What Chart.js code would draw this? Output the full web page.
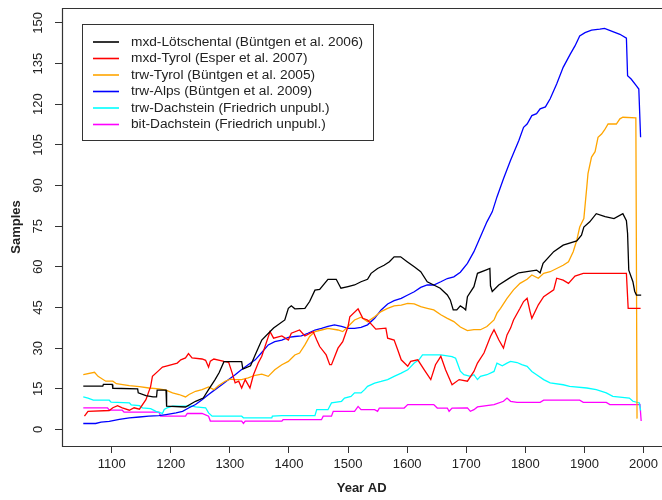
<!DOCTYPE html>
<html>
<head>
<meta charset="utf-8">
<script src="https://cdn.jsdelivr.net/npm/chart.js@4.4.1/dist/chart.umd.min.js"></script>
<style>
  html, body { margin: 0; padding: 0; background: #fff; overflow: hidden; }
</style>
</head>
<body>
<canvas id="samplesChart" width="662" height="500"></canvas>
<script>
// tick labels
var yearTicks = [1100, 1200, 1300, 1400, 1500, 1600, 1700, 1800, 1900, 2000];
var sampleTicks = [0, 15, 30, 45, 60, 75, 90, 105, 120, 135, 150];

var seriesLabels = [
  'mxd-Lötschental (Büntgen et al. 2006)',
  'mxd-Tyrol (Esper et al. 2007)',
  'trw-Tyrol (Büntgen et al. 2005)',
  'trw-Alps (Büntgen et al. 2009)',
  'trw-Dachstein (Friedrich unpubl.)',
  'bit-Dachstein (Friedrich unpubl.)'
];
var seriesColors = ['#000000', '#ff0000', '#ffa500', '#0000ff', '#00ffff', '#ff00ff'];

// [year, samples]
var mxdLotschental = [[1052,16],[1085,16],[1086,16.6],[1101,16.6],[1102,15.2],[1144,15],[1145,13.5],[1158,12.5],[1170,12],[1176,12],[1177,14.5],[1192,14.5],[1193,8.6],[1225,8.3],[1242,10.4],[1255,11.6],[1264,14.7],[1275,18.4],[1282,21],[1290,25],[1320,25],[1322,22.3],[1335,23.5],[1343,27.6],[1354,33],[1374,37.4],[1393,40.4],[1399,44.7],[1404,45.6],[1410,44.5],[1427,44.7],[1435,47.2],[1444,51.4],[1452,51.7],[1466,55.4],[1480,55.4],[1488,52.1],[1500,52.7],[1511,53.3],[1522,54.5],[1533,55.4],[1539,57.6],[1550,59.4],[1561,60.6],[1570,61.9],[1578,63.7],[1589,63.7],[1600,61.9],[1612,60],[1623,58.2],[1634,54.5],[1645,53.3],[1656,52.1],[1668,49.6],[1673,47.8],[1678,44.1],[1684,44.1],[1690,45.6],[1696,44.7],[1699,44.1],[1702,49],[1713,52.7],[1719,57.6],[1733,58.8],[1740,59.4],[1741,53],[1744,50.9],[1755,53.3],[1775,56.1],[1789,57.8],[1819,58.8],[1825,57.8],[1830,61.3],[1848,65.6],[1864,68],[1887,69.6],[1895,71.7],[1899,74.7],[1909,76.6],[1920,79.6],[1935,78.5],[1950,77.8],[1965,79.6],[1971,77],[1973,72.3],[1975,58.8],[1982,54.5],[1985,51],[1988,49.6],[1996,49.6]];

var mxdTyrol = [[1054,4.9],[1060,6.7],[1096,7],[1102,8],[1110,8.8],[1118,8],[1130,7.1],[1138,8],[1147,7.5],[1158,11],[1166,15.9],[1169,19.6],[1180,21.8],[1186,23],[1194,23.5],[1211,24.5],[1217,25.7],[1225,26.4],[1230,28],[1236,26.4],[1253,26],[1259,25.5],[1264,23],[1267,25.2],[1273,26],[1290,25.1],[1298,24.8],[1304,20.8],[1309,17.2],[1315,17.8],[1320,15.3],[1326,18.4],[1334,15.3],[1340,20.2],[1348,24.5],[1354,27],[1368,36.1],[1374,33.7],[1388,34.5],[1399,33],[1404,35.5],[1418,36.7],[1427,34.5],[1441,36.1],[1447,33],[1452,30.6],[1463,27.5],[1469,23.9],[1472,23.9],[1483,30],[1491,32.4],[1500,38],[1503,41.6],[1517,44.5],[1525,41],[1533,40.4],[1547,37],[1564,37.4],[1567,33.7],[1578,33],[1584,29.4],[1590,25.7],[1601,23.3],[1606,25.1],[1618,25.7],[1629,22],[1640,18.4],[1648,23.9],[1657,27],[1665,22],[1676,16.5],[1688,18.4],[1702,17.8],[1713,21.4],[1719,24.5],[1730,28.2],[1741,34.3],[1747,36.8],[1755,33.1],[1763,30],[1769,34.9],[1775,37.4],[1780,40.4],[1791,44.7],[1797,47.2],[1803,48.4],[1808,43.5],[1811,41],[1822,46],[1831,49],[1848,51.5],[1853,55.8],[1864,55.1],[1873,53.9],[1884,56.6],[1898,57.6],[1971,57.6],[1974,44.7],[1995,44.7]];

var trwTyrol = [[1052,20.2],[1071,21.1],[1077,19.6],[1090,17.8],[1102,17.8],[1108,16.9],[1130,16.2],[1147,15.8],[1163,15.3],[1180,15],[1192,14.5],[1203,13.5],[1214,12.9],[1225,12],[1231,12.9],[1242,14.1],[1253,14.7],[1264,15.7],[1273,14.7],[1281,16.2],[1292,17.8],[1301,18.6],[1309,18.4],[1320,18.4],[1331,19],[1343,20],[1354,20.4],[1365,19.6],[1376,22],[1388,23.9],[1399,25.1],[1410,27.5],[1418,28.2],[1427,31.2],[1435,34.3],[1444,36.1],[1455,36.7],[1466,37.3],[1483,36.7],[1491,36.1],[1500,38],[1511,40.4],[1522,41.4],[1533,39.8],[1545,41.6],[1556,43.5],[1567,44.7],[1578,45.6],[1590,45.9],[1601,46.5],[1612,46.3],[1623,45.3],[1634,44.7],[1645,44.1],[1657,42.3],[1668,41],[1679,39.8],[1690,37.8],[1702,36.5],[1713,36.8],[1724,36.8],[1735,38],[1747,40.4],[1752,42.9],[1758,44.7],[1769,48.4],[1780,51.5],[1791,53.9],[1803,55.4],[1811,57],[1822,55.8],[1831,57.6],[1842,58.2],[1853,59.4],[1864,60.6],[1873,61.9],[1881,65.6],[1887,69.8],[1892,74.7],[1899,77.8],[1904,89.5],[1906,94.4],[1912,100.5],[1918,102.5],[1923,107.8],[1929,109],[1934,110.5],[1940,112.7],[1954,112.7],[1960,114.6],[1965,115.2],[1987,115],[1989,4]];

var trwAlps = [[1052,2.2],[1073,2.2],[1082,2.7],[1096,3],[1113,3.7],[1130,4.3],[1147,4.6],[1163,4.9],[1180,5.1],[1192,5.5],[1209,6.1],[1220,6.7],[1231,8],[1242,9.2],[1253,11],[1264,12.9],[1275,14.7],[1287,16.6],[1298,18.4],[1309,20.2],[1320,22.1],[1331,23.9],[1343,25.7],[1354,28.4],[1365,31.2],[1376,32.4],[1388,33],[1399,34],[1410,34.3],[1421,34.5],[1432,35.5],[1444,36.7],[1455,37.3],[1466,38],[1477,38.6],[1489,38],[1500,37.3],[1511,37.3],[1522,37.7],[1533,38.6],[1545,41],[1556,44.1],[1567,46.3],[1578,47.5],[1590,48.4],[1601,49.6],[1612,50.8],[1623,52.4],[1634,53.3],[1645,53.3],[1657,54.5],[1668,55.7],[1679,56.3],[1690,58],[1702,61.3],[1713,65.6],[1724,71.1],[1735,76.6],[1744,80.3],[1752,85.8],[1763,92.5],[1775,99.3],[1789,106.6],[1797,111.5],[1803,112.7],[1811,115.8],[1819,116.5],[1825,118.3],[1834,119],[1842,122],[1853,127.5],[1864,133.6],[1876,138.5],[1884,141.5],[1892,145.2],[1901,146.4],[1912,147.3],[1926,147.7],[1934,148],[1948,146.8],[1960,145.8],[1971,144.4],[1973,130.5],[1979,129.3],[1988,126.8],[1992,125.6],[1995,107.8]];

var trwDachstein = [[1052,12],[1060,11.6],[1069,10.8],[1096,10.8],[1099,10.1],[1130,9.8],[1133,9.1],[1147,8.8],[1152,8],[1166,7.7],[1175,6.7],[1186,5.9],[1189,7.4],[1194,8],[1203,8.6],[1236,8.6],[1242,8.3],[1259,8],[1264,6.1],[1270,4.9],[1320,4.9],[1323,4.3],[1371,4.3],[1372,4.9],[1388,5.1],[1444,5.1],[1447,7.3],[1466,7.3],[1472,9.8],[1489,10.4],[1494,11.6],[1505,12.2],[1511,13.5],[1522,13.5],[1528,14.7],[1533,15.9],[1545,17.1],[1556,17.7],[1567,18.4],[1578,19.6],[1590,20.8],[1601,22],[1612,24.5],[1620,25.7],[1626,27.5],[1657,27.5],[1676,26.9],[1682,26.3],[1685,24.5],[1690,21.5],[1696,20.2],[1707,19.6],[1713,20.2],[1719,18.4],[1724,19.6],[1735,20.2],[1747,21.4],[1752,24.5],[1761,23.5],[1769,24.5],[1775,25.1],[1786,24.7],[1794,23.9],[1803,23.3],[1811,21.4],[1819,20.2],[1831,18.4],[1842,17.2],[1864,16.5],[1875,15.9],[1904,15.3],[1920,14.7],[1937,13.5],[1948,12.2],[1976,11.6],[1982,10.4],[1993,9.8],[1995,7]];

var bitDachstein = [[1052,8],[1093,8],[1096,7.1],[1118,7.1],[1121,6.4],[1180,6.4],[1183,4.9],[1225,4.9],[1228,5.9],[1253,5.9],[1264,4.9],[1267,3.1],[1320,3.1],[1323,2.2],[1326,3.1],[1388,3.1],[1390,3.6],[1455,3.6],[1458,4.9],[1472,4.9],[1475,6.7],[1511,6.7],[1517,8.5],[1522,7.3],[1545,7.3],[1550,6.7],[1553,7.9],[1595,7.9],[1601,9.2],[1645,9.2],[1651,7.9],[1668,7.9],[1671,6.7],[1676,7.9],[1702,8],[1707,6.7],[1713,7.3],[1719,8.3],[1747,9.2],[1763,10.4],[1769,11.6],[1775,10.4],[1786,10],[1825,10],[1831,10.8],[1892,10.8],[1898,10],[1937,10],[1943,9.2],[1994,9.2],[1996,3.1]];

var allSeries = [mxdLotschental, mxdTyrol, trwTyrol, trwAlps, trwDachstein, bitDachstein];

var fontFamily = "'Liberation Sans', Arial, sans-serif";
var baseFont = { family: fontFamily, size: 13 };
var boldFont = { family: fontFamily, size: 13, weight: 'bold' };

// R style box: top, left and bottom; the right side falls outside the picture
var framePlugin = {
  id: 'frame',
  afterDraw: function(chart) {
    var a = chart.chartArea, ctx = chart.ctx;
    var l = Math.round(a.left) + 0.5, t = Math.round(a.top) + 0.5, b = Math.round(a.bottom) + 0.5;
    ctx.save();
    ctx.strokeStyle = '#333';
    ctx.lineWidth = 1.2;
    ctx.beginPath();
    ctx.moveTo(chart.width, t);
    ctx.lineTo(l, t);
    ctx.lineTo(l, b);
    ctx.lineTo(chart.width, b);
    ctx.stroke();
    ctx.restore();
  }
};

// y tick labels run parallel to the axis
var yLabelPlugin = {
  id: 'yLabels',
  afterDraw: function(chart) {
    var ctx = chart.ctx, y = chart.scales.y;
    ctx.save();
    ctx.fillStyle = '#222';
    ctx.font = '13px ' + fontFamily;
    ctx.textAlign = 'center';
    ctx.textBaseline = 'middle';
    sampleTicks.forEach(function(v) {
      var py = y.getPixelForValue(v);
      ctx.save();
      ctx.translate(38, py);
      ctx.rotate(-Math.PI / 2);
      ctx.fillText(String(v), 0, 0);
      ctx.restore();
    });
    ctx.restore();
  }
};

var legendPlugin = {
  id: 'boxLegend',
  afterDraw: function(chart) {
    var ctx = chart.ctx;
    ctx.save();
    ctx.fillStyle = '#fff';
    ctx.fillRect(82, 24, 291, 116);
    ctx.strokeStyle = '#333';
    ctx.lineWidth = 1;
    ctx.strokeRect(82.5, 24.5, 291, 116);
    ctx.font = '13.7px ' + fontFamily;
    ctx.textBaseline = 'middle';
    chart.data.datasets.forEach(function(ds, i) {
      var ry = 42 + i * 16.5;
      ctx.strokeStyle = ds.borderColor;
      ctx.lineWidth = 1.6;
      ctx.beginPath();
      ctx.moveTo(93, ry);
      ctx.lineTo(119, ry);
      ctx.stroke();
      ctx.fillStyle = '#222';
      ctx.fillText(ds.label, 131, ry);
    });
    ctx.restore();
  }
};

var ctx = document.getElementById('samplesChart').getContext('2d');
var chart = new Chart(ctx, {
  type: 'line',
  data: {
    datasets: allSeries.map(function(s, i) {
      return {
        label: seriesLabels[i],
        data: s.map(function(p) { return { x: p[0], y: p[1] }; }),
        borderColor: seriesColors[i],
        borderWidth: 1.3,
        pointRadius: 0,
        tension: 0,
        fill: false
      };
    })
  },
  options: {
    responsive: false,
    animation: false,
    devicePixelRatio: 1,
    layout: { padding: { top: 8, right: 0, left: 0, bottom: 0 } },
    plugins: {
      legend: { display: false },
      tooltip: { enabled: false }
    },
    scales: {
      x: {
        type: 'linear',
        min: 1016,
        max: 2030,
        afterBuildTicks: function(s) { s.ticks = yearTicks.map(function(v) { return { value: v }; }); },
        afterFit: function(s) { s.height = 54; },
        border: { display: false },
        grid: { drawOnChartArea: false, drawTicks: true, tickLength: 7, color: '#333' },
        ticks: { font: baseFont, color: '#222', padding: 4, maxRotation: 0, autoSkip: false,
                 callback: function(v) { return String(v); } },
        title: { display: true, text: 'Year AD', font: boldFont, color: '#222', padding: { top: 0, bottom: 4 } }
      },
      y: {
        min: -6.1,
        max: 155.5,
        afterBuildTicks: function(s) { s.ticks = sampleTicks.map(function(v) { return { value: v }; }); },
        afterFit: function(s) { s.width = 62; },
        border: { display: false },
        grid: { drawOnChartArea: false, drawTicks: true, tickLength: 7, color: '#333' },
        ticks: { display: false },
        title: { display: true, text: 'Samples', font: boldFont, color: '#222', padding: { top: 9, bottom: 0 } }
      }
    }
  },
  plugins: [framePlugin, yLabelPlugin, legendPlugin]
});
</script>
</body>
</html>
